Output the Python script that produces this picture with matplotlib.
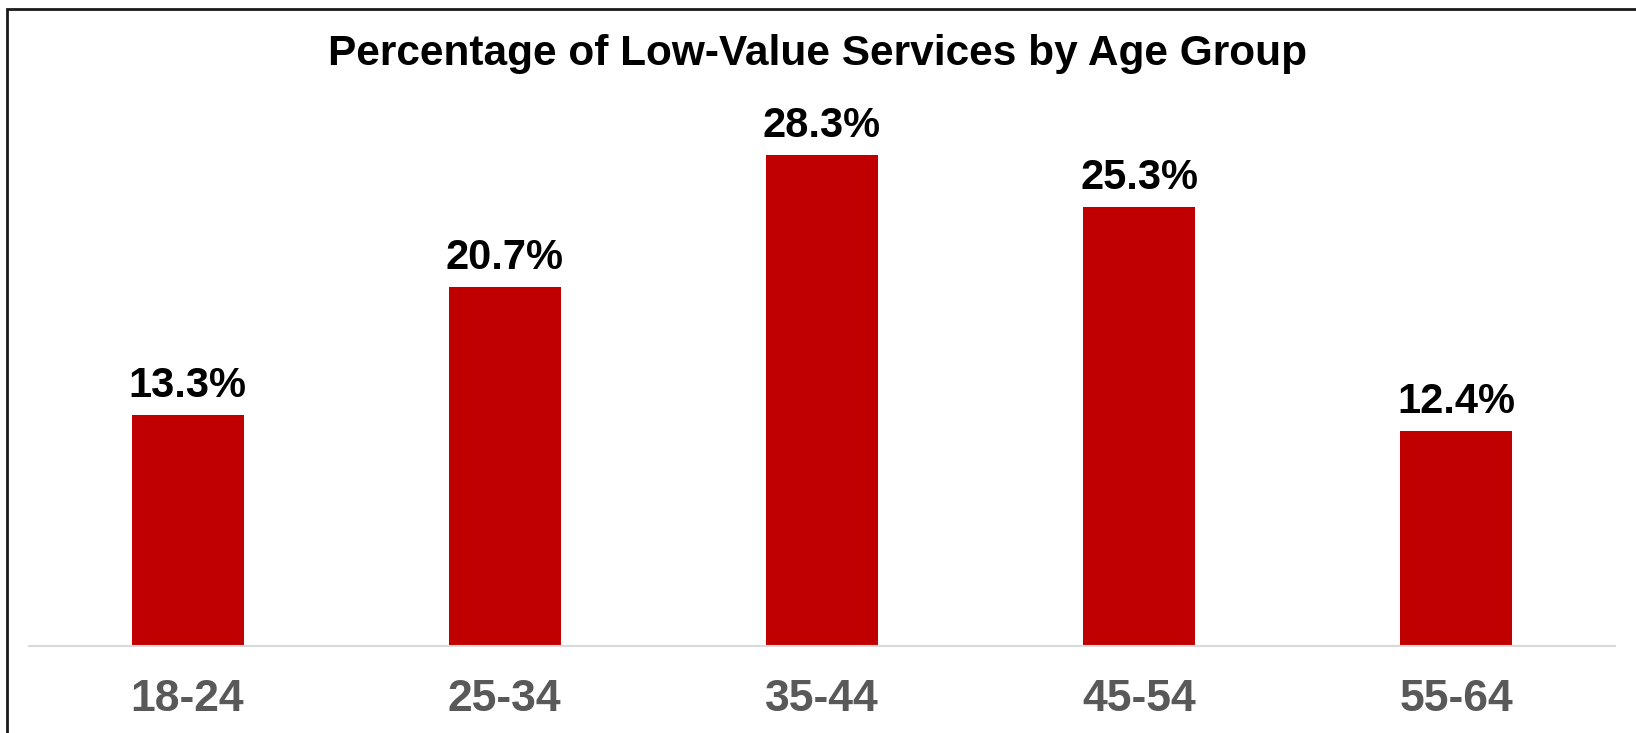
import matplotlib.pyplot as plt
from matplotlib.patches import Rectangle

age_groups = ['18-24', '25-34', '35-44', '45-54', '55-64']
pct_low_value = [13.3, 20.7, 28.3, 25.3, 12.4]

plt.rcParams['font.family'] = ['Liberation Sans', 'DejaVu Sans']

fig = plt.figure(figsize=(16.36, 7.33), dpi=100)
ax = fig.add_axes([0.0177, 0.1187, 0.9694, 0.7094])

x = range(len(age_groups))
ax.bar(x, pct_low_value, width=0.353, color='#C00000', zorder=2)

for xi, v in zip(x, pct_low_value):
    ax.annotate(f"{v:.1f}%", xy=(xi, v), xytext=(0, 9), textcoords='offset pixels',
                ha='center', va='bottom', fontsize=30, fontweight='bold', color='black')

ax.set_xlim(-0.5, len(age_groups) - 0.5)
ax.set_ylim(0, 30)
ax.set_xticks(list(x))
ax.set_xticklabels(age_groups, fontsize=32, fontweight='bold', color='#595959')
ax.tick_params(axis='x', length=0, pad=24)
ax.set_yticks([])

for side in ['top', 'right', 'left']:
    ax.spines[side].set_visible(False)
ax.spines['bottom'].set_color('#D9D9D9')
ax.spines['bottom'].set_linewidth(1.5)

fig.text(0.5, 1 - 54 / 733, 'Percentage of Low-Value Services by Age Group',
         ha='center', va='center', fontsize=30.5, fontweight='bold', color='black')

# outer chart border (cropped on the right and bottom)
fig.patches.append(Rectangle((6.5 / 1636, -0.1), 1.2, 1 - 9.5 / 733 + 0.1,
                             transform=fig.transFigure, fill=False,
                             edgecolor='#1a1a1a', linewidth=2))

fig.savefig('out.png', dpi=100)
